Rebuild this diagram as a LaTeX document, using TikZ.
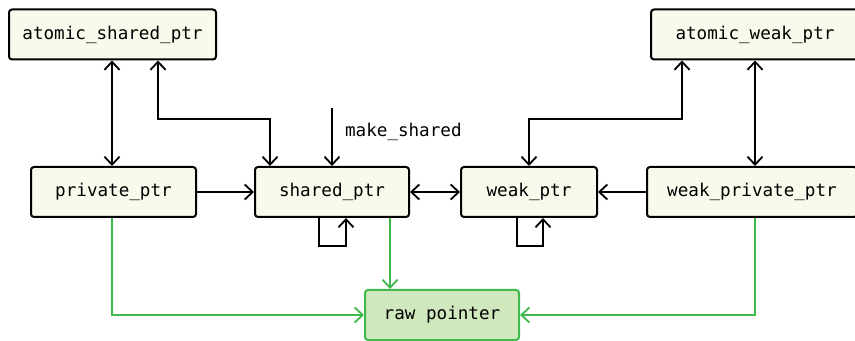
\documentclass[tikz,border=0pt]{standalone}
\usepackage{fontspec}
\setmonofont{DejaVu Sans Mono}
\usetikzlibrary{arrows.meta,positioning}
\definecolor{boxfill}{HTML}{F9F9EC}
\definecolor{rawfill}{HTML}{D0E8BD}
\definecolor{rawline}{HTML}{3FB94C}

\begin{document}
\begin{tikzpicture}[x=0.5pt,y=-0.5pt,
    ptrbox/.style={draw,line width=1pt,rounded corners=1.5pt,fill=boxfill,minimum height=25pt,inner sep=0pt,font=\ttfamily\fontsize{8.8}{10}\selectfont},
    rawbox/.style={ptrbox,draw=rawline,fill=rawfill},
    link/.style={line width=0.9pt,-{Straight Barb[length=4pt,width=7.5pt]}},
    bothlink/.style={link,{Straight Barb[length=4pt,width=7.5pt]}-{Straight Barb[length=4pt,width=7.5pt]}},
    rawlink/.style={link,draw=rawline}]
  \useasboundingbox (0,0) rectangle (855,341);

  \node[ptrbox,minimum width=103.5pt] (asp) at (112.5,34.5) {atomic\_shared\_ptr};
  \node[ptrbox,minimum width=104pt] (awp) at (755,34.5) {atomic\_weak\_ptr};
  \node[ptrbox,minimum width=82.5pt] (pp) at (113.5,192) {private\_ptr};
  \node[ptrbox,minimum width=77pt] (sp) at (332,192) {shared\_ptr};
  \node[ptrbox,minimum width=68pt] (wp) at (529,192) {weak\_ptr};
  \node[ptrbox,minimum width=105pt] (wpp) at (752,192) {weak\_private\_ptr};
  \node[rawbox,minimum width=77pt] (raw) at (442,315) {raw pointer};

  \coordinate (sbend) at (158,119);
  \coordinate (wbend) at (682,119);
  \coordinate (mk) at (332,108);
  \coordinate (sloop) at (319,246);
  \coordinate (wloop) at (517,246);

  % atomic links
  \draw[bothlink] (asp.south -| 112,0) -- (pp.north -| 112,0);
  \draw[bothlink] (sp.north -| 270,0) |- (sbend) -- (sbend |- asp.south);
  \draw[bothlink] (wp.north) |- (wbend) -- (wbend |- awp.south);
  \draw[bothlink] (awp.south -| 755,0) -- (wpp.north -| 755,0);

  \draw[link] (mk) -- (sp.north);
  \node[anchor=west,font=\ttfamily\fontsize{8.8}{10}\selectfont] (mklabel) at (338,132) {make\_shared};

  % middle row
  \draw[link] (pp) -- (sp);
  \draw[bothlink] (sp) -- (wp);
  \draw[link] (wpp) -- (wp);

  % self loops
  \draw[link] (sp.south -| sloop) -- (sloop) -| (sp.south -| 346,0);
  \draw[link] (wp.south -| wloop) -- (wloop) -| (wp.south -| 543,0);

  % to raw pointer
  \draw[rawlink] (pp.south -| 112,0) |- (raw);
  \draw[rawlink] (sp.south -| 390,0) -- (raw.north -| 390,0);
  \draw[rawlink] (wpp.south -| 755,0) |- (raw);
\end{tikzpicture}
\end{document}
